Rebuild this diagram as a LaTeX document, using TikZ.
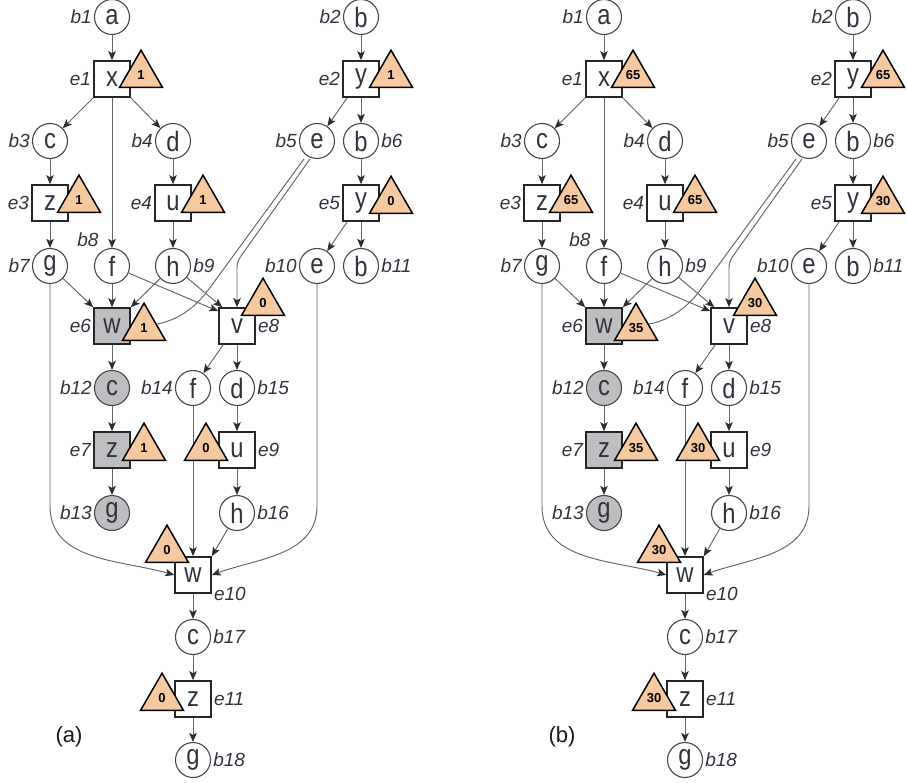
\documentclass[tikz,border=0pt]{standalone}
\usepackage{fontspec}
\setmainfont{Liberation Sans}
\newfontfamily\letterfont[FakeStretch=0.85]{Liberation Sans}
\usetikzlibrary{arrows.meta,shapes.geometric}

\definecolor{edgegray}{HTML}{666666}
\definecolor{tipgray}{HTML}{2E2E2E}
\definecolor{ink}{HTML}{30343E}
\definecolor{boxgray}{HTML}{BEBEC0}
\definecolor{peach}{HTML}{F7C9A1}

\tikzset{
  bnode/.style={circle, draw=black!72, line width=1.1pt, fill=white,
    minimum size=35pt, inner sep=0pt, text=ink,
    font=\letterfont\fontsize{28}{28}\selectfont},
  enode/.style={rectangle, draw=black!85, line width=1.6pt, fill=white,
    minimum size=36pt, inner sep=0pt, text=ink,
    font=\letterfont\fontsize{28}{28}\selectfont},
  shaded/.style={fill=boxgray},
  cnt/.style={regular polygon, regular polygon sides=3, minimum size=49.6pt,
    draw=black, line width=1.5pt, fill=peach, inner sep=0pt,
    font=\bfseries\fontsize{13}{13}\selectfont},
  tag/.style={font=\itshape\fontsize{19}{19}\selectfont, text=ink, inner sep=2pt},
  panelname/.style={font=\fontsize{22}{22}\selectfont, text=black!90, inner sep=0pt},
  flow/.style={draw=edgegray, line width=0.95pt,
    -{Stealth[length=9pt,width=7.5pt,inset=2pt,color=tipgray]}},
}

% One copy of the flow graph; #1 = name prefix, #2 = horizontal offset.
% The eleven counter values are taken from \cntA ... \cntK.
\newcommand\flowpanel[2]{%
\begin{scope}[xshift=#2pt]
  % blocks (circles) and events (squares)
  \node[bnode] (#1a)   at (112,17)  {a};
  \node[enode] (#1x)   at (112,79)  {x};
  \node[bnode] (#1c)   at (50,141)  {c};
  \node[bnode] (#1d)   at (173,141) {d};
  \node[enode] (#1z3)  at (50,203)  {z};
  \node[enode] (#1u4)  at (173,203) {u};
  \node[bnode] (#1g7)  at (50,266)  {g};
  \node[bnode] (#1f8)  at (112,266) {f};
  \node[bnode] (#1h9)  at (173,266) {h};
  \node[enode,shaded] (#1w6) at (112,326) {w};
  \node[enode] (#1v8)  at (237,326) {v};
  \node[bnode] (#1b2)  at (361,17)  {b};
  \node[enode] (#1y2)  at (361,79)  {y};
  \node[bnode] (#1b5)  at (317,141) {e};
  \node[bnode] (#1b6)  at (361,141) {b};
  \node[enode] (#1y5)  at (361,203) {y};
  \node[bnode] (#1b10) at (317,266) {e};
  \node[bnode] (#1b11) at (361,266) {b};
  \node[bnode,shaded] (#1c12) at (112,388) {c};
  \node[enode,shaded] (#1z7)  at (112,450) {z};
  \node[bnode,shaded] (#1g13) at (112,513) {g};
  \node[bnode] (#1f14) at (193,388) {f};
  \node[bnode] (#1d15) at (237,388) {d};
  \node[enode] (#1u9)  at (237,450) {u};
  \node[bnode] (#1h16) at (237,513) {h};
  \node[enode] (#1w10) at (193,575) {w};
  \node[bnode] (#1c17) at (193,637) {c};
  \node[enode] (#1z11) at (193,699) {z};
  \node[bnode] (#1g18) at (193,760) {g};
  % names of blocks and events
  \node[tag,anchor=east] (#1nb1)  at (#1a.west)   {b1};
  \node[tag,anchor=east] (#1ne1)  at (#1x.west)   {e1};
  \node[tag,anchor=east] (#1nb3)  at (#1c.west)   {b3};
  \node[tag,anchor=east] (#1nb4)  at (#1d.west)   {b4};
  \node[tag,anchor=east] (#1ne3)  at (#1z3.west)  {e3};
  \node[tag,anchor=east] (#1ne4)  at (#1u4.west)  {e4};
  \node[tag,anchor=east] (#1nb7)  at (#1g7.west)  {b7};
  \node[tag,anchor=south east] (#1nb8) at ([shift={(1.5pt,4.5pt)}]#1f8.north west) {b8};
  \node[tag,anchor=west] (#1nb9)  at (#1h9.east)  {b9};
  \node[tag,anchor=east] (#1ne6)  at (#1w6.west)  {e6};
  \node[tag,anchor=west] (#1ne8)  at (#1v8.east)  {e8};
  \node[tag,anchor=east] (#1nb2)  at (#1b2.west)  {b2};
  \node[tag,anchor=east] (#1ne2)  at (#1y2.west)  {e2};
  \node[tag,anchor=east] (#1nb5)  at (#1b5.west)  {b5};
  \node[tag,anchor=west] (#1nb6)  at (#1b6.east)  {b6};
  \node[tag,anchor=east] (#1ne5)  at (#1y5.west)  {e5};
  \node[tag,anchor=east] (#1nb10) at (#1b10.west) {b10};
  \node[tag,anchor=west] (#1nb11) at (#1b11.east) {b11};
  \node[tag,anchor=east] (#1nb12) at (#1c12.west) {b12};
  \node[tag,anchor=east] (#1ne7)  at (#1z7.west)  {e7};
  \node[tag,anchor=east] (#1nb13) at (#1g13.west) {b13};
  \node[tag,anchor=east] (#1nb14) at (#1f14.west) {b14};
  \node[tag,anchor=west] (#1nb15) at (#1d15.east) {b15};
  \node[tag,anchor=west] (#1ne9)  at (#1u9.east)  {e9};
  \node[tag,anchor=west] (#1nb16) at (#1h16.east) {b16};
  \node[tag,anchor=west] (#1ne10) at (#1w10.south east) {e10};
  \node[tag,anchor=west] (#1nb17) at (#1c17.east) {b17};
  \node[tag,anchor=west] (#1ne11) at (#1z11.east) {e11};
  \node[tag,anchor=west] (#1nb18) at (#1g18.east) {b18};
  % flow edges
  \draw[flow] (#1a) -- (#1x);
  \draw[flow] (#1x.south west) -- (#1c);
  \draw[flow] (#1x.south east) -- (#1d);
  \draw[flow] (#1x) -- (#1f8);
  \draw[flow] (#1c) -- (#1z3);
  \draw[flow] (#1d) -- (#1u4);
  \draw[flow] (#1z3) -- (#1g7);
  \draw[flow] (#1u4) -- (#1h9);
  \draw[flow] (#1g7) -- (#1w6.north west);
  \draw[flow] (#1f8) -- (#1w6);
  \draw[flow] (#1h9) -- (#1w6.north east);
  \draw[flow] (#1f8) -- ([yshift=-4pt]#1v8.north west);
  \draw[flow] (#1h9) -- ([xshift=4pt]#1v8.north west);
  \draw[flow] (#1b2) -- (#1y2);
  \draw[flow] ([xshift=5pt]#1y2.south west) -- (#1b5);
  \draw[flow] (#1y2) -- (#1b6);
  \draw[flow] (#1b6) -- (#1y5);
  \draw[flow] ([xshift=5pt]#1y5.south west) -- (#1b10);
  \draw[flow] (#1y5) -- (#1b11);
  \draw[flow] ([shift={(-13pt,-18pt)}]#1b5.center) -- ++(-95,130)
      to[out=234,in=0] (#1w6.east);
  \draw[flow] ([shift={(-7pt,-18pt)}]#1b5.center) -- ++(-69,97)
      to[out=235,in=90] ++(-4,12) -- (#1v8.north);
  \draw[flow] (#1w6) -- (#1c12);
  \draw[flow] (#1c12) -- (#1z7);
  \draw[flow] (#1z7) -- (#1g13);
  \draw[flow] ([xshift=5pt]#1v8.south west) -- (#1f14);
  \draw[flow] (#1v8) -- (#1d15);
  \draw[flow] (#1d15) -- (#1u9);
  \draw[flow] (#1u9) -- (#1h16);
  \draw[flow] (#1f14) -- (#1w10);
  \draw[flow] (#1h16) -- (#1w10.north east);
  \draw[flow] (#1g7.south) -- ++(0,222) to[out=-90,in=164] (#1w10.west);
  \draw[flow] (#1b10.south) -- ++(0,222) to[out=-90,in=20] (#1w10.east);
  \draw[flow] (#1w10) -- (#1c17);
  \draw[flow] (#1c17) -- (#1z11);
  \draw[flow] (#1z11) -- (#1g18);
  % counters
  \node[cnt] (#1t1)  at (141,75)  {\cntA};
  \node[cnt] (#1t2)  at (391,75)  {\cntB};
  \node[cnt] (#1t3)  at (79,200)  {\cntC};
  \node[cnt] (#1t4)  at (203,200) {\cntD};
  \node[cnt] (#1t5)  at (391,201) {\cntE};
  \node[cnt] (#1t6)  at (144,328) {\cntF};
  \node[cnt] (#1t7)  at (144,448) {\cntG};
  \node[cnt] (#1t8)  at (263,303) {\cntH};
  \node[cnt] (#1t9)  at (206,448) {\cntI};
  \node[cnt] (#1t10) at (167,550) {\cntJ};
  \node[cnt] (#1t11) at (162,698) {\cntK};
\end{scope}}

\begin{document}
\begin{tikzpicture}[x=1pt,y=-1pt]
  \useasboundingbox[fill=white] (0,0) rectangle (907,783);

  \def\cntA{1}\def\cntB{1}\def\cntC{1}\def\cntD{1}\def\cntE{0}\def\cntF{1}%
  \def\cntG{1}\def\cntH{0}\def\cntI{0}\def\cntJ{0}\def\cntK{0}%
  \flowpanel{L}{0}
  \node[panelname] (capa) at (69,737) {(a)};

  \def\cntA{65}\def\cntB{65}\def\cntC{65}\def\cntD{65}\def\cntE{30}\def\cntF{35}%
  \def\cntG{35}\def\cntH{30}\def\cntI{30}\def\cntJ{30}\def\cntK{30}%
  \flowpanel{R}{492}
  \node[panelname] (capb) at (562,737) {(b)};
\end{tikzpicture}
\end{document}
